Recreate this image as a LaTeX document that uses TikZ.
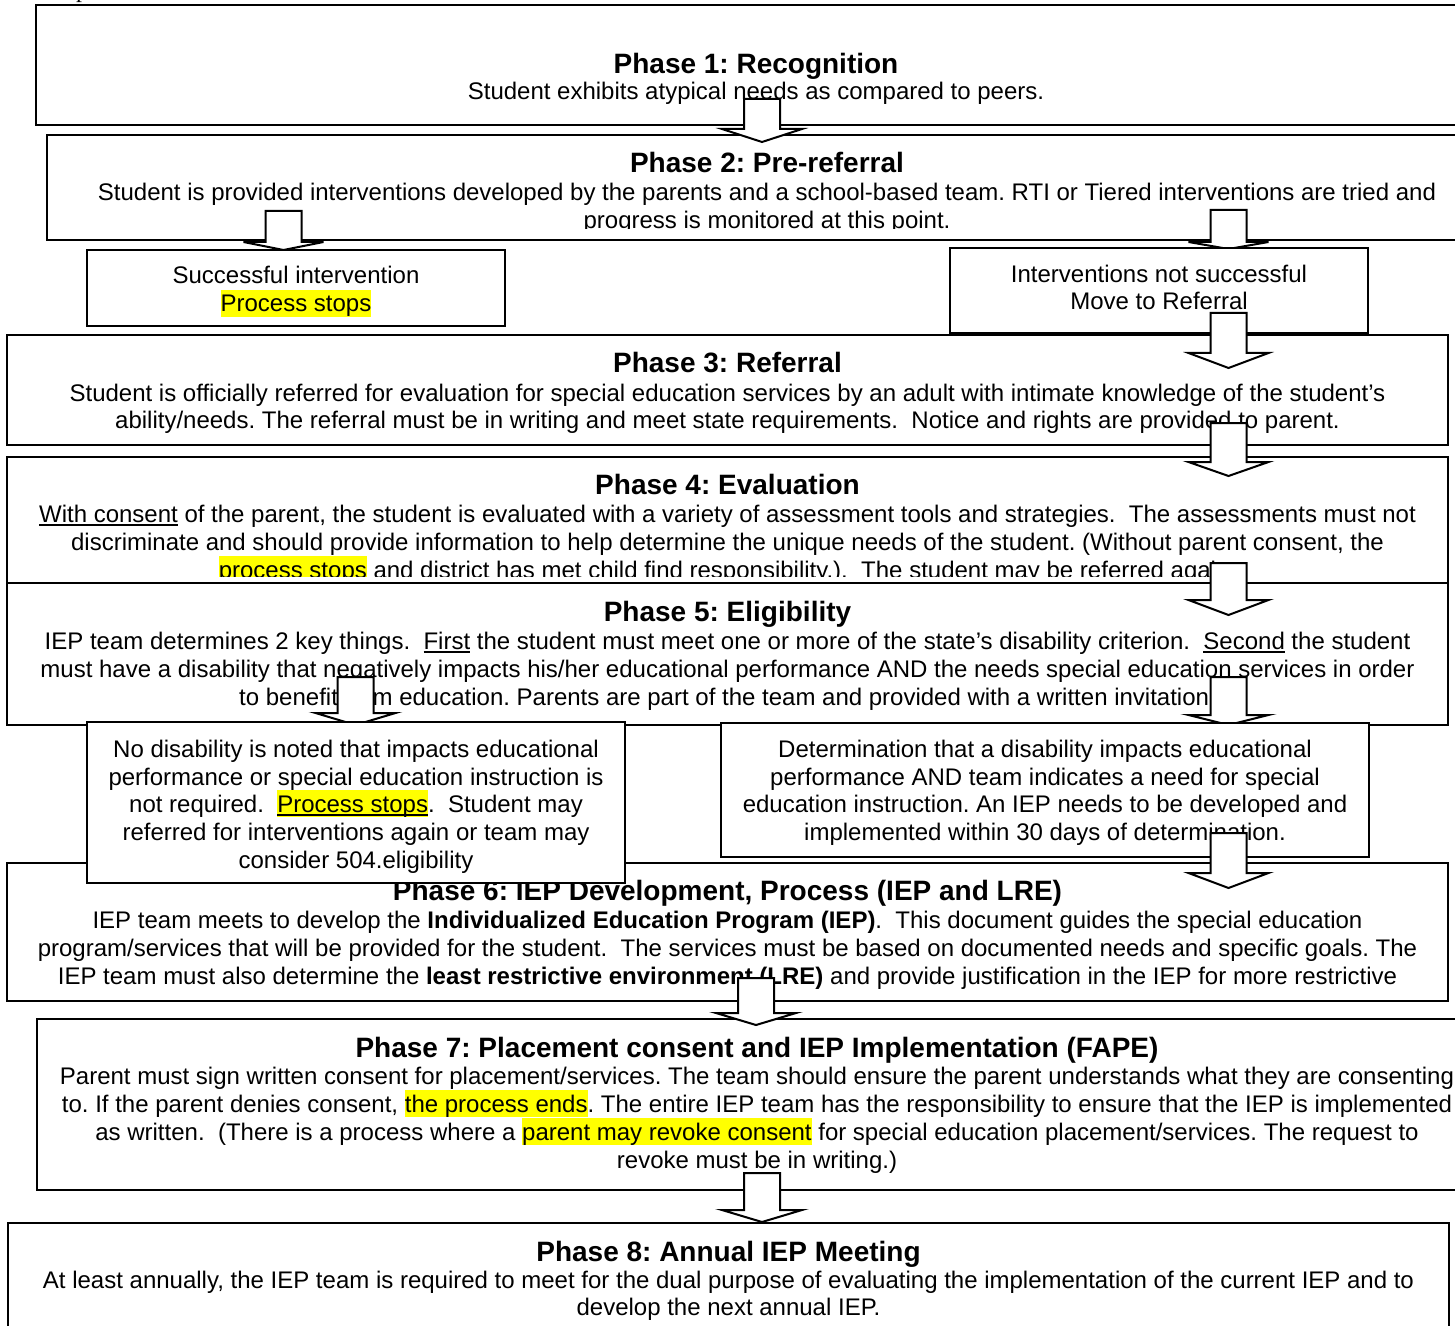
\documentclass[tikz,border=0pt]{standalone}
\usepackage{fontspec}
\setmainfont{Liberation Sans}
\newfontfamily\serifpart{Liberation Serif}
\usepackage{xcolor}
\definecolor{hlyellow}{RGB}{255,255,0}
\frenchspacing
\newcommand\hlt[1]{{\setlength{\fboxsep}{0pt}\colorbox{hlyellow}{\rule[-0.212em]{0pt}{1.117em}#1}}}
\newcommand\uln[1]{{\setbox0\hbox{#1}\rlap{\rule[-0.15em]{\wd0}{0.07em}}\box0}}
\newcommand\pbox[6][box]{\node[#1, anchor=north west, minimum width={(#5-#3)*0.5pt}, minimum height={(#6-#4)*0.5pt}] (#2) at (#3,#4) {};}
\newcommand\blockarrow[5]{\draw[barrow] ({#2-18},#3) -- ({#2+18},#3) -- ({#2+18},#4) -- ({#2+40},#4) -- (#2,#5) -- ({#2-40},#4) -- ({#2-18},#4) -- cycle; \coordinate (#1) at (#2,#5);}
\tikzset{
  box/.style={draw=black, line width=0.65pt, fill=white, inner sep=0pt, outer sep=0pt},
  thickbox/.style={draw=black, line width=1pt, fill=white, inner sep=0pt, outer sep=0pt},
  barrow/.style={draw=black, line width=1pt, fill=white, line join=miter},
  ln/.style={anchor=base, inner sep=0pt, font=\fontsize{12}{14}\selectfont},
  hd/.style={anchor=base, inner sep=0pt, font=\fontsize{14}{16}\selectfont\bfseries},
}
\begin{document}
\begin{tikzpicture}[x=0.5pt, y=-0.5pt]
\useasboundingbox (0,0) rectangle (1455,1326);
\node[anchor=base, inner sep=0pt, font=\serifpart\fontsize{12}{14}\selectfont] (frag) at (82,-2) {p};

% Phase 1
\pbox{b1}{36}{5}{1476}{125}
\node[hd] (b1h) at (756,74) {Phase 1: Recognition};
\node[ln] (b1a) at (756,100) {Student exhibits atypical needs as compared to peers.};

% Phase 2
\pbox{b2}{47}{135}{1488}{240}
\begin{scope}
\clip (47,135) rectangle (1488,229);
\node[hd] (b2h) at (767,173) {Phase 2: Pre-referral};
\node[ln] (b2a) at (767,201) {Student is provided interventions developed by the parents and a school-based team. RTI or Tiered interventions are tried and};
\node[ln] (b2b) at (767,229) {progress is monitored at this point.};
\end{scope}
\blockarrow{a1}{762}{99}{129}{142}
\blockarrow{a2l}{283.5}{211}{242}{250}
\blockarrow{a2r}{1228.5}{210}{242}{249}

% outcome boxes
\pbox{s1}{87}{250}{505}{326}
\node[ln] (s1a) at (296,284) {Successful intervention};
\node[ln] (s1b) at (296,312) {\hlt{Process stops}};
\pbox{s2}{950}{248}{1368}{333}
\node[ln] (s2a) at (1159,283) {Interventions not successful};
\node[ln] (s2b) at (1159,310) {Move to Referral};

% Phase 3
\pbox{b3}{7}{335}{1448}{445}
\node[hd] (b3h) at (727.5,372) {Phase 3: Referral};
\node[ln] (b3a) at (727.5,401) {Student is officially referred for evaluation for special education services by an adult with intimate knowledge of the student’s};
\node[ln] (b3b) at (727.5,429) {ability/needs. The referral must be in writing and meet state requirements.\ \ Notice and rights are provided to parent.};
\blockarrow{a3}{1228.5}{313}{353}{368}

% Phase 4
\pbox{b4}{7}{457}{1448}{583}
\begin{scope}
\clip (7,457) rectangle (1448,576);
\node[hd] (b4h) at (727.5,494) {Phase 4: Evaluation};
\node[ln] (b4a) at (727.5,522) {\uln{With consent} of the parent, the student is evaluated with a variety of assessment tools and strategies.\ \ The assessments must not};
\node[ln] (b4b) at (727.5,550) {discriminate and should provide information to help determine the unique needs of the student. (Without parent consent, the};
\node[ln] (b4c) at (727.5,578) {\hlt{process stops} and district has met child find responsibility.).\ \ The student may be referred again.};
\end{scope}
\blockarrow{a4}{1228.5}{423}{462}{476}

% Phase 5
\pbox{b5}{7}{583}{1448}{725}
\node[hd] (b5h) at (727.5,621) {Phase 5: Eligibility};
\node[ln] (b5a) at (727.5,649) {IEP team determines 2 key things.\ \ \uln{First} the student must meet one or more of the state’s disability criterion.\ \ \uln{Second} the student};
\node[ln] (b5b) at (727.5,677) {must have a disability that negatively impacts his/her educational performance AND the needs special education services in order};
\node[ln] (b5c) at (727.5,705) {to benefit from education. Parents are part of the team and provided with a written invitation.};
\blockarrow{a5}{1228.5}{563}{600}{615}

% Phase 6
\pbox{b6}{7}{863}{1448}{1001}
\node[hd] (b6h) at (727.5,900) {Phase 6: IEP Development, Process (IEP and LRE)};
\node[ln] (b6a) at (727.5,928) {IEP team meets to develop the \textbf{Individualized Education Program (IEP)}.\ \ This document guides the special education};
\node[ln] (b6b) at (727.5,956) {program/services that will be provided for the student.\ \ The services must be based on documented needs and specific goals. The};
\node[ln] (b6c) at (727.5,984) {IEP team must also determine the \textbf{least restrictive environment (LRE)} and provide justification in the IEP for more restrictive};

\blockarrow{a6l}{355.5}{677}{713}{725}
\blockarrow{a6r}{1228.5}{677}{715}{725}

% eligibility outcomes
\pbox{n1}{87}{722}{625}{883}
\node[ln] (n1a) at (356,757) {No disability is noted that impacts educational};
\node[ln] (n1b) at (356,785) {performance or special education instruction is};
\node[ln] (n1c) at (356,812) {not required.\ \ \hlt{\uln{Process stops}}.\ \ Student may};
\node[ln] (n1d) at (356,840) {referred for interventions again or team may};
\node[ln] (n1e) at (356,868) {consider 504.eligibility};
\pbox{d1}{721}{723}{1369}{857}
\node[ln] (d1a) at (1045,757) {Determination that a disability impacts educational};
\node[ln] (d1b) at (1045,785) {performance AND team indicates a need for special};
\node[ln] (d1c) at (1045,812) {education instruction. An IEP needs to be developed and};
\node[ln] (d1d) at (1045,840) {implemented within 30 days of determination.};
\blockarrow{a7}{1228.5}{833}{873}{888}

% Phase 7
\pbox{b7}{37}{1019}{1476}{1190}
\node[hd] (b7h) at (757,1057) {Phase 7: Placement consent and IEP Implementation (FAPE)};
\node[ln] (b7a) at (757,1084) {Parent must sign written consent for placement/services. The team should ensure the parent understands what they are consenting};
\node[ln] (b7b) at (757,1112) {to. If the parent denies consent, \hlt{the process ends}. The entire IEP team has the responsibility to ensure that the IEP is implemented};
\node[ln] (b7c) at (757,1140) {as written.\ \ (There is a process where a \hlt{parent may revoke consent} for special education placement/services. The request to};
\node[ln] (b7d) at (757,1168) {revoke must be in writing.)};
\blockarrow{a8}{756}{978}{1013}{1025}

% Phase 8
\pbox[thickbox]{b8}{8}{1223}{1449}{1345}
\node[hd] (b8h) at (728.5,1261) {Phase 8: Annual IEP Meeting};
\node[ln] (b8a) at (728.5,1288) {At least annually, the IEP team is required to meet for the dual purpose of evaluating the implementation of the current IEP and to};
\node[ln] (b8b) at (728.5,1315) {develop the next annual IEP.};
\blockarrow{a9}{762}{1173}{1210}{1222}
\end{tikzpicture}
\end{document}
